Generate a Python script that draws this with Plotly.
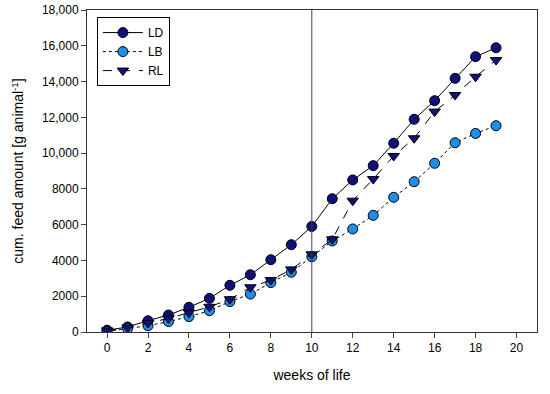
import plotly.graph_objects as go

weeks = list(range(20))
LD = [100, 280, 630, 950, 1380, 1880, 2610, 3200, 4040, 4880, 5900, 7450, 8500, 9300, 10550, 11890, 12930, 14180, 15390, 15890]
LB = [40, 200, 350, 580, 860, 1190, 1700, 2120, 2760, 3340, 4210, 5090, 5760, 6520, 7530, 8400, 9430, 10580, 11100, 11530]
RL = [90, 250, 500, 760, 1080, 1410, 1830, 2500, 2900, 3500, 4340, 5180, 7340, 8550, 9840, 10830, 12320, 13250, 14270, 15200]

ytickvals = [0, 2000, 4000, 6000, 8000, 10000, 12000, 14000, 16000, 18000]
yticktext = ["0", "2000", "4000", "6000", "8000", "10,000", "12,000", "14,000", "16,000", "18,000"]
xtickvals = [0, 2, 4, 6, 8, 10, 12, 14, 16, 18, 20]

font = "Liberation Sans, Arial, sans-serif"

fig = go.Figure()
fig.add_trace(go.Scatter(x=weeks, y=LD, name="LD", mode="lines+markers",
                         line=dict(color="black", width=1, dash="solid"),
                         marker=dict(symbol="circle", size=10, color="#10107a",
                                     line=dict(color="black", width=1))))
fig.add_trace(go.Scatter(x=weeks, y=LB, name="LB", mode="lines+markers",
                         line=dict(color="black", width=1, dash="dot"),
                         marker=dict(symbol="circle", size=10, color="#1e8ee8",
                                     line=dict(color="black", width=1))))
fig.add_trace(go.Scatter(x=weeks, y=RL, name="RL", mode="lines+markers",
                         line=dict(color="black", width=1, dash="dash"),
                         marker=dict(symbol="triangle-down", size=10, color="#10107a",
                                     line=dict(color="black", width=1))))

fig.add_shape(type="line", x0=10, x1=10, y0=0, y1=1, xref="x", yref="paper",
              line=dict(color="#444444", width=1))

fig.update_layout(
    width=550, height=394,
    margin=dict(l=87, r=13, t=10, b=62, autoexpand=False),
    paper_bgcolor="white", plot_bgcolor="white",
    font=dict(family=font, size=12, color="black"),
    showlegend=True,
    legend=dict(x=0.022, y=0.978, xanchor="left", yanchor="top",
                bordercolor="black", borderwidth=1, bgcolor="white",
                font=dict(size=12), tracegroupgap=0, itemwidth=40),
    xaxis=dict(range=[-0.98, 21], tickvals=xtickvals, ticks="outside", ticklen=5,
               showgrid=False, zeroline=False, showline=True, linecolor="#333333",
               mirror=True, linewidth=1, automargin=False,
               title=dict(text="weeks of life", font=dict(size=14), standoff=15),
               tickfont=dict(size=12)),
    yaxis=dict(range=[0, 18000], tickvals=ytickvals, ticktext=yticktext,
               ticks="outside", ticklen=5, ticklabeloverflow="allow",
               showgrid=False, zeroline=False, showline=True, linecolor="#333333",
               mirror=True, linewidth=1, automargin=False,
               title=dict(text="cum. feed amount [g animal<sup>-1</sup>]", font=dict(size=14), standoff=14),
               tickfont=dict(size=12)),
)

fig.write_html("out.html", post_script="document.body.style.margin='0';",
               config={"displayModeBar": False})
